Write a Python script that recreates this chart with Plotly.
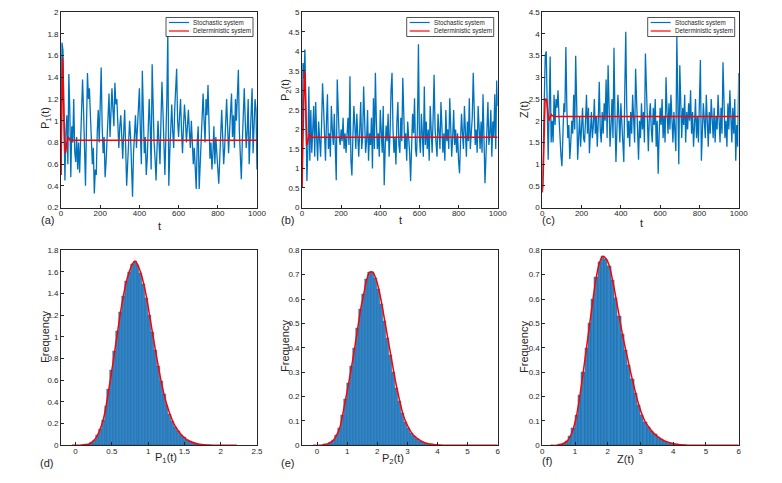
import plotly.graph_objects as go
from plotly.subplots import make_subplots

# --- time axis of the sampled paths (step 5) ---
t_step = list(range(0, 1001, 5))

# --- (a) P1(t) ---
p1_stoch = [
    0.5, 1.72, 1.65, 1.2, 0.45, 0.9, 1.05, 0.6, 1.43, 1.1,
    0.48, 0.95, 0.8, 1.2, 0.72, 0.62, 0.85, 0.55, 0.8, 0.52,
    0.9, 1.0, 1.38, 1.1, 0.75, 0.4, 0.95, 1.44, 1.2, 1.3,
    1.05, 0.85, 0.6, 0.75, 0.33, 0.55, 0.5, 0.9, 1.1, 0.8,
    1.2, 1.49, 0.95, 0.7, 0.85, 0.48, 0.62, 0.9, 1.1, 1.25,
    0.85, 1.05, 1.3, 1.1, 0.95, 1.35, 1.15, 1.2, 1.0, 0.75,
    0.95, 1.05, 0.85, 0.65, 0.9, 1.1, 0.75, 0.4, 0.6, 0.8,
    1.0, 0.85, 0.55, 0.3, 0.7, 0.9, 1.05, 0.75, 0.95, 1.1,
    1.3, 0.9, 0.6, 1.46, 1.0, 0.7, 0.85, 0.5, 0.65, 0.9,
    1.2, 0.95, 0.55, 1.52, 1.1, 0.8, 0.65, 0.45, 0.75, 1.0,
    0.8, 0.6, 1.0, 1.36, 1.1, 0.7, 0.5, 0.85, 1.2, 1.82,
    0.4, 0.7, 1.0, 1.15, 0.9, 0.75, 1.1, 1.3, 1.48, 1.0,
    0.85, 1.05, 1.2, 0.9, 0.7, 0.95, 1.15, 1.0, 0.8, 0.95,
    1.1, 0.9, 0.75, 1.0, 0.85, 0.6, 0.75, 0.5, 0.37, 0.8,
    0.95, 0.37, 0.6, 0.85, 1.1, 1.25, 1.0, 0.8, 1.2, 1.05,
    1.33, 0.9, 0.65, 0.8, 0.55, 0.7, 0.95, 0.6, 0.85, 0.7,
    0.5, 0.42, 0.65, 0.9, 1.1, 0.85, 0.6, 0.75, 1.0, 1.2,
    0.95, 0.7, 0.9, 1.15, 1.25, 0.85, 1.05, 0.75, 1.2, 1.0,
    1.35, 1.47, 0.9, 0.7, 0.46, 0.8, 1.1, 1.3, 1.0, 0.75,
    0.9, 1.2, 0.6, 0.85, 1.05, 1.3, 0.7, 0.95, 1.2, 1.1,
    0.55,
]
p1_det_t = [0, 3, 6, 8, 10, 13, 16, 19, 22, 25, 28, 32, 36, 40, 45, 50, 55, 60, 70, 1000]
p1_det = [0.5, 0.9, 1.45, 1.58, 1.5, 1.2, 0.9, 0.75, 0.7, 0.72, 0.78, 0.84, 0.85, 0.84,
          0.82, 0.81, 0.815, 0.82, 0.82, 0.82]

# --- (b) P2(t) ---
p2_stoch = [
    0.5, 3.7, 3.3, 4.05, 2.5, 0.68, 1.5, 3.1, 1.2, 2.5,
    1.4, 2.0, 2.6, 1.3, 2.7, 1.8, 1.2, 2.2, 1.5, 1.3,
    2.1, 3.18, 2.6, 1.7, 1.2, 2.2, 2.9, 1.5, 1.9, 1.3,
    2.6, 2.0, 1.6, 2.4, 1.2, 0.7, 3.28, 2.5, 1.8, 1.6,
    2.0, 1.7, 2.3, 1.5, 1.9, 1.4, 1.8, 2.3, 1.6, 3.36,
    1.2, 0.82, 1.8, 2.6, 2.1, 1.5, 2.4, 1.7, 1.3, 2.0,
    2.7, 1.5, 1.8, 3.1, 2.2, 1.4, 1.7, 2.5, 1.2, 1.9,
    1.6, 2.3, 1.0, 2.8, 1.5, 3.45, 2.2, 1.5, 1.9, 1.3,
    2.5, 1.8, 1.4, 2.6, 0.57, 1.5, 2.1, 1.7, 2.4, 1.3,
    1.9, 3.0, 3.45, 2.0, 1.4, 1.8, 1.1, 2.2, 2.7, 1.6,
    1.4, 2.3, 1.7, 3.32, 2.4, 1.5, 1.9, 1.2, 2.2, 1.8,
    1.4, 0.68, 1.6, 2.4, 1.9, 2.8, 1.5, 1.3, 2.1, 4.18,
    1.8, 1.4, 2.4, 1.9, 1.3, 3.1, 1.6, 2.2, 1.5, 2.0,
    1.2, 2.6, 1.8, 1.4, 2.3, 3.4, 2.0, 1.6, 1.3, 2.4,
    1.8, 1.5, 2.7, 2.2, 1.4, 1.9, 1.2, 2.5, 1.7, 2.0,
    1.5, 2.8, 2.2, 1.3, 1.8, 2.5, 1.6, 2.0, 1.4, 1.9,
    1.2, 0.88, 1.7, 2.4, 1.9, 1.5, 2.6, 1.8, 1.3, 2.2,
    1.7, 2.8, 1.5, 1.9, 2.3, 3.45, 2.1, 1.6, 2.0, 1.4,
    2.6, 1.9, 1.5, 2.2, 1.4, 2.9, 1.7, 0.62, 1.3, 2.1,
    2.7, 1.6, 1.9, 2.5, 1.3, 2.2, 1.8, 2.9, 1.5, 3.25,
    2.6,
]
p2_det_t = [0, 3, 6, 9, 12, 15, 18, 21, 24, 27, 30, 34, 38, 42, 46, 50, 55, 60, 1000]
p2_det = [0.5, 1.5, 2.7, 3.45, 3.5, 3.4, 2.9, 2.1, 1.6, 1.62, 1.72, 1.83, 1.88, 1.86,
          1.82, 1.79, 1.79, 1.8, 1.8]

# --- (c) Z(t) ---
z_stoch = [
    0.35, 1.2, 2.2, 3.5, 3.6, 1.8, 1.1, 2.3, 3.48, 1.5,
    2.0, 1.5, 2.6, 1.9, 2.5, 2.3, 2.7, 2.1, 1.5, 1.2,
    0.95, 1.6, 2.4, 2.2, 3.7, 2.3, 1.6, 1.9, 1.12, 1.5,
    2.0, 1.7, 2.6, 1.8, 3.5, 2.4, 1.1, 1.6, 2.1, 1.4,
    1.9, 2.3, 1.6, 1.5, 2.0, 2.6, 1.7, 2.3, 1.25, 1.8,
    2.2, 1.6, 1.9, 2.5, 1.7, 2.1, 1.4, 2.0, 2.9, 1.8,
    1.5, 2.2, 1.7, 2.4, 2.0, 2.95, 1.6, 3.28, 2.2, 1.4,
    1.9, 2.5, 1.6, 3.68, 2.1, 1.05, 1.8, 2.6, 2.1, 1.5,
    2.4, 1.8, 1.5, 1.05, 2.7, 4.05, 2.3, 1.6, 2.0, 1.4,
    2.2, 1.7, 2.6, 1.9, 1.5, 3.2, 2.3, 1.6, 1.1, 2.0,
    1.6, 2.4, 1.8, 2.2, 1.5, 3.55, 2.6, 1.7, 1.3, 2.1,
    2.4, 1.8, 1.5, 2.3, 1.9, 2.5, 1.4, 2.0, 0.78, 1.7,
    2.3, 1.9, 2.5, 1.6, 2.1, 1.5, 3.0, 2.2, 1.7, 2.4,
    1.8, 2.6, 2.0, 1.5, 2.2, 1.7, 1.3, 3.95, 2.4, 1.0,
    3.28, 2.1, 1.6, 2.3, 1.9, 2.6, 1.5, 2.2, 1.8, 2.4,
    2.0, 2.7, 1.7, 2.2, 1.4, 1.9, 2.5, 1.6, 2.1, 1.5,
    2.3, 3.4, 1.08, 1.8, 2.4, 2.0, 1.6, 2.6, 1.9, 1.4,
    2.2, 1.7, 2.5, 2.0, 1.6, 2.3, 1.5, 2.1, 1.8, 2.6,
    1.9, 1.5, 2.3, 1.7, 3.35, 2.2, 1.6, 2.0, 1.4, 2.4,
    1.8, 2.7, 2.1, 1.5, 2.3, 1.7, 2.5, 1.08, 1.9, 1.4,
    3.1,
]
z_det_t = [0, 3, 6, 10, 14, 18, 22, 26, 30, 34, 38, 42, 46, 50, 55, 60, 1000]
z_det = [0.35, 0.5, 1.0, 2.0, 2.45, 2.5, 2.48, 2.3, 2.1, 2.0, 2.05, 2.12, 2.14, 2.12,
         2.1, 2.1, 2.1]

# --- (d) histogram of P1 ---
p1_bins = [round(0.10 + 0.04 * i, 2) for i in range(45)]
p1_freq = [
    0.002, 0.005, 0.01, 0.025, 0.05, 0.09, 0.15, 0.23, 0.36, 0.52,
    0.69, 0.87, 1.05, 1.23, 1.38, 1.51, 1.60, 1.67, 1.70, 1.66,
    1.59, 1.49, 1.36, 1.20, 1.04, 0.88, 0.73, 0.59, 0.47, 0.37,
    0.29, 0.22, 0.17, 0.13, 0.095, 0.07, 0.05, 0.035, 0.024, 0.016,
    0.01, 0.006, 0.004, 0.002, 0.001,
]
p1_tail_lo, p1_tail_hi = [-0.05, 0.05], [1.95, 2.22]

# --- (e) histogram of P2 ---
p2_bins = [round(0.25 + 0.1 * i, 2) for i in range(39)]
p2_freq = [
    0.003, 0.006, 0.012, 0.022, 0.042, 0.07, 0.125, 0.19, 0.255, 0.325,
    0.40, 0.48, 0.56, 0.62, 0.68, 0.71, 0.71, 0.685, 0.64, 0.58,
    0.51, 0.44, 0.37, 0.30, 0.235, 0.18, 0.13, 0.095, 0.07, 0.05,
    0.036, 0.026, 0.018, 0.012, 0.008, 0.005, 0.003, 0.002, 0.001,
]
p2_tail_lo, p2_tail_hi = [-0.13, 0.1], [4.5, 6.0]

# --- (f) histogram of Z ---
z_bins = [round(0.55 + 0.1 * i, 2) for i in range(39)]
z_freq = [
    0.003, 0.007, 0.016, 0.035, 0.07, 0.125, 0.205, 0.30, 0.40, 0.50,
    0.60, 0.69, 0.75, 0.775, 0.765, 0.735, 0.675, 0.605, 0.53, 0.455,
    0.39, 0.33, 0.27, 0.215, 0.165, 0.125, 0.095, 0.075, 0.058, 0.044,
    0.033, 0.024, 0.017, 0.012, 0.008, 0.005, 0.003, 0.002, 0.001,
]
z_tail_lo, z_tail_hi = [0.26, 0.45], [4.6, 6.0]

BLUE = '#0072BD'
BAR = '#2f86c8'
RED = '#ff0000'
FONT = 'Liberation Sans'
# the page body has an 8px margin, so the figure is drawn 8px in from the window corner
OFF = 8
W, H = 782 - OFF, 483 - OFF


def px(x):
    return (x - OFF) / W


def py(y):
    return 1 - (y - OFF) / H


fig = make_subplots(rows=2, cols=3)

top = [(p1_stoch, p1_det_t, p1_det), (p2_stoch, p2_det_t, p2_det), (z_stoch, z_det_t, z_det)]
for i, (st, dt, dv) in enumerate(top):
    fig.add_trace(go.Scatter(x=t_step, y=st, mode='lines', name='Stochastic system',
                             line=dict(color=BLUE, width=1.3), showlegend=False), row=1, col=i + 1)
    fig.add_trace(go.Scatter(x=dt, y=dv, mode='lines', name='Deterministic system',
                             line=dict(color=RED, width=1.5), showlegend=False), row=1, col=i + 1)

bottom = [
    (p1_bins, p1_freq, 0.04, p1_tail_lo, p1_tail_hi),
    (p2_bins, p2_freq, 0.1, p2_tail_lo, p2_tail_hi),
    (z_bins, z_freq, 0.1, z_tail_lo, z_tail_hi),
]
for i, (bx, by, w, lo, hi) in enumerate(bottom):
    fig.add_trace(go.Bar(x=bx, y=by, width=w, marker=dict(color=BAR, line=dict(color='#1b5f96', width=0.5)),
                         showlegend=False), row=2, col=i + 1)
    fig.add_trace(go.Scatter(x=lo + bx + hi, y=[0] * len(lo) + by + [0] * len(hi), mode='lines',
                             line=dict(color=RED, width=1.5, shape='spline'), showlegend=False),
                  row=2, col=i + 1)

axis_style = dict(showline=True, mirror=True, linecolor='#262626', linewidth=0.8,
                  ticks='inside', ticklen=3, tickcolor='#262626', showgrid=False,
                  zeroline=False, automargin=False,
                  tickfont=dict(family=FONT, size=8, color='#262626'))

xdom = [[px(61), px(257)], [px(302), px(497.7)], [px(542.3), px(738.7)]]
ydom = [[py(207.5), py(12.3)], [py(445.3), py(250.3)]]

top_y = [
    dict(range=[0.2, 2], tickvals=[0.2, 0.4, 0.6, 0.8, 1, 1.2, 1.4, 1.6, 1.8, 2]),
    dict(range=[0, 5], tickvals=[0, 0.5, 1, 1.5, 2, 2.5, 3, 3.5, 4, 4.5, 5]),
    dict(range=[0, 4.5], tickvals=[0, 0.5, 1, 1.5, 2, 2.5, 3, 3.5, 4, 4.5]),
]
bot_x = [
    dict(range=[-0.2, 2.5], tickvals=[0, 0.5, 1, 1.5, 2, 2.5]),
    dict(range=[-0.5, 6], tickvals=[0, 1, 2, 3, 4, 5, 6]),
    dict(range=[0, 6], tickvals=[0, 1, 2, 3, 4, 5, 6]),
]
bot_y = [
    dict(range=[0, 1.8], tickvals=[0, 0.2, 0.4, 0.6, 0.8, 1, 1.2, 1.4, 1.6, 1.8]),
    dict(range=[0, 0.8], tickvals=[0, 0.1, 0.2, 0.3, 0.4, 0.5, 0.6, 0.7, 0.8]),
    dict(range=[0, 0.8], tickvals=[0, 0.1, 0.2, 0.3, 0.4, 0.5, 0.6, 0.7, 0.8]),
]

for c in range(3):
    fig.update_xaxes(axis_style, domain=xdom[c], range=[0, 1000], tickvals=[0, 200, 400, 600, 800, 1000],
                     ticklabelstandoff=-2, row=1, col=c + 1)
    fig.update_yaxes(axis_style, domain=ydom[0], **top_y[c], row=1, col=c + 1)
    fig.update_xaxes(axis_style, domain=xdom[c], **bot_x[c], ticklabelstandoff=-2, row=2, col=c + 1)
    fig.update_yaxes(axis_style, domain=ydom[1], **bot_y[c], row=2, col=c + 1)


def note(text, x, y, size=11, angle=0, xanchor='center'):
    fig.add_annotation(text=text, x=px(x), y=py(y), xref='paper', yref='paper',
                       showarrow=False, textangle=angle, xanchor=xanchor, yanchor='middle',
                       font=dict(family=FONT, size=size, color='#262626'))


# axis titles
for txt, x, y in [('P<sub>1</sub>(t)', 46, 118), ('P<sub>2</sub>(t)', 286, 90), ('Z(t)', 524, 110),
                  ('Frequency', 45, 337), ('Frequency', 285, 346), ('Frequency', 524, 347)]:
    note(txt, x, y, angle=-90)
for txt, x, y in [('t', 159, 226), ('t', 400, 220), ('t', 641, 223),
                  ('P<sub>1</sub>(t)', 166, 458), ('P<sub>2</sub>(t)', 393, 459), ('Z(t)', 625, 459)]:
    note(txt, x, y)

# panel labels
for txt, x, y in [('(a)', 47, 220), ('(b)', 287, 220), ('(c)', 548, 220),
                  ('(d)', 46, 463), ('(e)', 287, 463), ('(f)', 547, 461)]:
    note(txt, x, y, size=11)

# legend boxes drawn inside each top panel
for dx in [0, 240.7, 481.7]:
    x0, x1 = 166 + dx, 253 + dx
    fig.add_shape(type='rect', xref='paper', yref='paper', x0=px(x0), x1=px(x1),
                  y0=py(36.5), y1=py(17.5), line=dict(color='#262626', width=0.8),
                  fillcolor='white', layer='above')
    for yy, col, name in [(22.5, BLUE, 'Stochastic system'), (31, RED, 'Deterministic system')]:
        fig.add_shape(type='line', xref='paper', yref='paper', x0=px(x0 + 3), x1=px(x0 + 23),
                      y0=py(yy), y1=py(yy), line=dict(color=col, width=1.2), layer='above')
        note(name, x0 + 25, yy, size=6.3, xanchor='left')

fig.update_layout(width=W, height=H, margin=dict(l=0, r=0, t=0, b=0, autoexpand=False),
                  plot_bgcolor='white', paper_bgcolor='white', bargap=0, showlegend=False)

fig.write_html("out.html")
